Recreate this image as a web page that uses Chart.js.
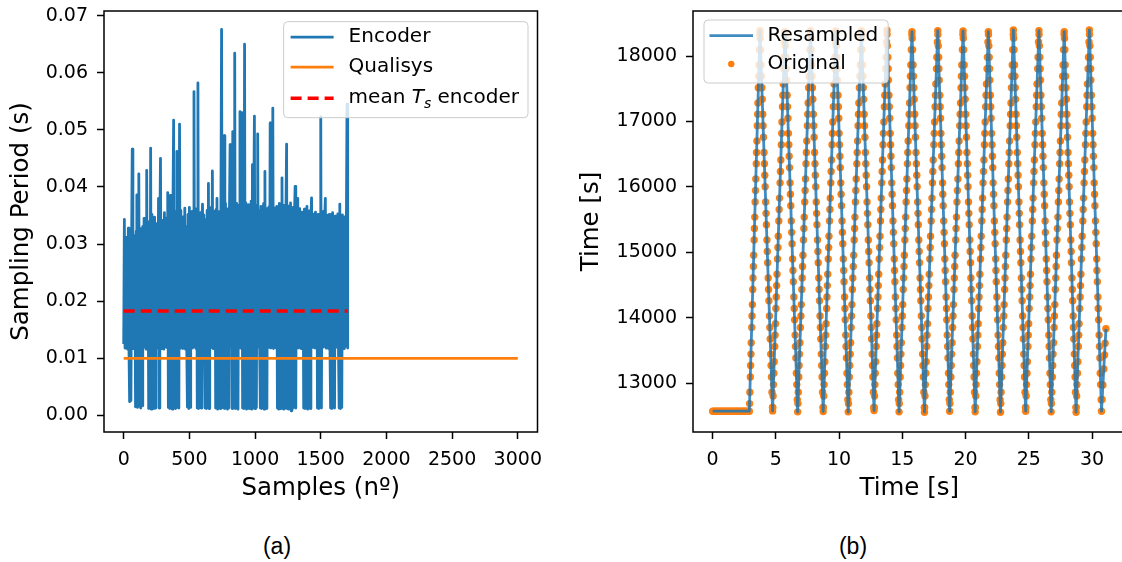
<!DOCTYPE html>
<html>
<head>
<meta charset="utf-8">
<script src="https://cdn.jsdelivr.net/npm/chart.js@4.4.1/dist/chart.umd.min.js"></script>
<style>
  html, body { margin: 0; padding: 0; background: #fff; overflow: hidden; width: 1122px; height: 562px; }
  canvas { position: absolute; top: 0; }
  #periodChart { left: 0; }
  #timeChart { left: 560px; }
  .panel-tag { position: absolute; font-family: "Liberation Sans", Arial, sans-serif; font-size: 23px; color: #000;
               transform: translate(-50%, -50%); white-space: nowrap; }
</style>
</head>
<body>
<canvas id="periodChart" width="560" height="520"></canvas>
<canvas id="timeChart" width="570" height="520"></canvas>
<div class="panel-tag" style="left:277px; top:546px;">(a)</div>
<div class="panel-tag" style="left:853px; top:546px;">(b)</div>
<script>
// ---------- panel (a): sampling period per sample ----------
const sampleTicks = [0, 500, 1000, 1500, 2000, 2500, 3000];
const periodTicks = [0.00, 0.01, 0.02, 0.03, 0.04, 0.05, 0.06, 0.07];

// encoder sampling period, one value every 5 samples (samples 0 .. 1705)
const encoderStep = 5;
const encoderPeriod = [
  0.0125, 0.0343, 0.0118, 0.0312, 0.0121, 0.0295, 0.0116, 0.0328, 0.0119, 0.0024,
  0.0305, 0.0026, 0.0298, 0.0466, 0.0117, 0.0315, 0.0122, 0.0301, 0.0015, 0.0322,
  0.0386, 0.0014, 0.0318, 0.0423, 0.0016, 0.0327, 0.0013, 0.0309, 0.0017, 0.0331,
  0.0119, 0.0345, 0.0121, 0.0318, 0.0116, 0.0429, 0.0118, 0.0339, 0.0012, 0.0326,
  0.0013, 0.0468, 0.0011, 0.0352, 0.0014, 0.0321, 0.0012, 0.0347, 0.0013, 0.0318,
  0.0118, 0.0336, 0.0121, 0.0380, 0.0013, 0.0329, 0.0450, 0.0117, 0.0342, 0.0120,
  0.0331, 0.0116, 0.0355, 0.0122, 0.0318, 0.0119, 0.0346, 0.0390, 0.0014, 0.0338,
  0.0012, 0.0385, 0.0015, 0.0349, 0.0011, 0.0362, 0.0517, 0.0013, 0.0357, 0.0012,
  0.0344, 0.0462, 0.0014, 0.0351, 0.0013, 0.0510, 0.0118, 0.0359, 0.0121, 0.0336,
  0.0117, 0.0348, 0.0120, 0.0363, 0.0116, 0.0331, 0.0119, 0.0015, 0.0352, 0.0012,
  0.0364, 0.0014, 0.0341, 0.0121, 0.0357, 0.0118, 0.0339, 0.0567, 0.0120, 0.0348,
  0.0117, 0.0362, 0.0013, 0.0582, 0.0012, 0.0346, 0.0014, 0.0355, 0.0013, 0.0338,
  0.0370, 0.0119, 0.0351, 0.0122, 0.0013, 0.0343, 0.0012, 0.0359, 0.0014, 0.0406,
  0.0012, 0.0352, 0.0118, 0.0364, 0.0121, 0.0428, 0.0117, 0.0347, 0.0120, 0.0358,
  0.0013, 0.0361, 0.0380, 0.0011, 0.0349, 0.0014, 0.0357, 0.0012, 0.0366, 0.0676,
  0.0119, 0.0352, 0.0013, 0.0490, 0.0012, 0.0371, 0.0014, 0.0349, 0.0011, 0.0362,
  0.0013, 0.0358, 0.0474, 0.0120, 0.0367, 0.0012, 0.0497, 0.0014, 0.0362, 0.0634,
  0.0012, 0.0371, 0.0013, 0.0355, 0.0011, 0.0368, 0.0121, 0.0532, 0.0118, 0.0360,
  0.0530, 0.0013, 0.0366, 0.0012, 0.0650, 0.0014, 0.0372, 0.0011, 0.0358, 0.0013,
  0.0369, 0.0012, 0.0361, 0.0014, 0.0375, 0.0011, 0.0439, 0.0013, 0.0364, 0.0524,
  0.0012, 0.0357, 0.0014, 0.0368, 0.0493, 0.0120, 0.0359, 0.0117, 0.0013, 0.0366,
  0.0012, 0.0354, 0.0014, 0.0371, 0.0011, 0.0427, 0.0013, 0.0362, 0.0012, 0.0349,
  0.0119, 0.0365, 0.0122, 0.0512, 0.0118, 0.0357, 0.0121, 0.0538, 0.0117, 0.0363,
  0.0120, 0.0352, 0.0118, 0.0366, 0.0013, 0.0358, 0.0011, 0.0371, 0.0012, 0.0355,
  0.0014, 0.0416, 0.0012, 0.0362, 0.0011, 0.0368, 0.0013, 0.0354, 0.0475, 0.0012,
  0.0367, 0.0011, 0.0359, 0.0013, 0.0372, 0.0008, 0.0356, 0.0012, 0.0364, 0.0014,
  0.0351, 0.0401, 0.0013, 0.0358, 0.0120, 0.0380, 0.0118, 0.0362, 0.0121, 0.0349,
  0.0117, 0.0356, 0.0120, 0.0347, 0.0013, 0.0361, 0.0012, 0.0352, 0.0014, 0.0366,
  0.0011, 0.0349, 0.0013, 0.0358, 0.0012, 0.0344, 0.0381, 0.0119, 0.0353, 0.0122,
  0.0341, 0.0118, 0.0356, 0.0120, 0.0348, 0.0013, 0.0352, 0.0012, 0.0345, 0.0014,
  0.0523, 0.0013, 0.0349, 0.0119, 0.0357, 0.0121, 0.0343, 0.0380, 0.0118, 0.0351,
  0.0120, 0.0338, 0.0117, 0.0352, 0.0121, 0.0013, 0.0346, 0.0012, 0.0355, 0.0014,
  0.0341, 0.0013, 0.0349, 0.0119, 0.0336, 0.0122, 0.0353, 0.0118, 0.0013, 0.0370,
  0.0012, 0.0344, 0.0014, 0.0351, 0.0120, 0.0339, 0.0117, 0.0348, 0.0121, 0.0336,
  0.0545, 0.0118
];
const qualisysSamples = [0, 3000];
const qualisysPeriod = [0.01, 0.01];
const meanSamples = [0, 1705];
const meanPeriod = [0.0183, 0.0183];

// ---------- panel (b): resampled vs original encoder signal ----------
const timeTicks = [0, 5, 10, 15, 20, 25, 30];
const positionTicks = [13000, 14000, 15000, 16000, 17000, 18000];

const resampledTime = [0, 2.90, 3.74, 4.74, 5.72, 6.72, 7.74, 8.74, 9.74, 10.72, 11.76, 12.76, 13.78, 14.74, 15.76,
  16.75, 17.80, 18.74, 19.80, 20.76, 21.80, 22.76, 23.78, 24.75, 25.80, 26.77, 27.80, 28.74, 29.79, 30.75, 31.10];
const resampledValue = [12570, 12570, 18390, 12575, 18375, 12560, 18390, 12565, 18385, 12560, 18390, 12580, 18395, 12560, 18375,
  12555, 18390, 12570, 18385, 12560, 18375, 12555, 18400, 12570, 18390, 12560, 18375, 12555, 18400, 12570, 13830];

// resting segment before the motion starts
const flatTime = [0.0, 0.1, 0.2, 0.3, 0.4, 0.5, 0.6, 0.7, 0.8, 0.9, 1.0, 1.1, 1.2, 1.3, 1.4, 1.5, 1.6, 1.7, 1.8, 1.9,
  2.0, 2.1, 2.2, 2.3, 2.4, 2.5, 2.6, 2.7, 2.8, 2.9];
const flatLevel = 12570;

// samples taken right at the turning points
const turnTime = [3.74, 4.74, 5.72, 6.72, 7.74, 8.74, 9.74, 10.72, 11.76, 12.76, 13.78, 14.74, 15.76, 16.75,
  17.80, 18.74, 19.80, 20.76, 21.80, 22.76, 23.78, 24.75, 25.80, 26.77, 27.80, 28.74, 29.79, 30.75];
const turnValue = [18390, 12575, 18375, 12560, 18390, 12565, 18385, 12560, 18390, 12580, 18395, 12560, 18375, 12555,
  18390, 12570, 18385, 12560, 18375, 12555, 18400, 12570, 18390, 12560, 18375, 12555, 18400, 12570];

// sample heights along the rising / falling strokes
const riseLevelsA = [12628, 12803, 12977, 13152, 13327, 13559, 13734, 13909, 14141, 14316, 14491, 14665, 14898, 15073, 15247,
  15480, 15655, 15829, 16062, 16237, 16411, 16644, 16819, 16993, 17226, 17401, 17575, 17808, 17983, 18215];
const riseLevelsB = [12686, 12861, 13094, 13268, 13443, 13618, 13850, 14025, 14200, 14432, 14607, 14782, 14956, 15189, 15364,
  15538, 15771, 15946, 16120, 16353, 16528, 16702, 16935, 17110, 17284, 17517, 17692, 17866, 18099, 18332];
const fallLevelsA = [18274, 18099, 17866, 17692, 17517, 17342, 17110, 16935, 16760, 16528, 16353, 16178, 16004, 15771, 15596,
  15422, 15189, 15014, 14840, 14607, 14432, 14258, 14025, 13850, 13676, 13443, 13268, 13094, 12861, 12628];
const fallLevelsB = [18332, 18157, 17983, 17808, 17633, 17401, 17226, 17051, 16819, 16644, 16469, 16295, 16062, 15887, 15713,
  15480, 15305, 15131, 14898, 14723, 14549, 14316, 14141, 13967, 13734, 13559, 13385, 13152, 12977, 12745];

// sample times of each stroke (one row per stroke)
const riseTimesA = [
  [4.75,4.78,4.81,4.84,4.87,4.91,4.94,4.97,5.00,5.03,5.06,5.09,5.13,5.16,5.19,5.23,5.26,5.29,5.33,5.36,5.39,5.43,5.46,5.48,5.52,5.55,5.58,5.62,5.65,5.69],
  [8.75,8.78,8.81,8.84,8.87,8.91,8.94,8.97,9.01,9.04,9.07,9.10,9.14,9.17,9.20,9.24,9.27,9.30,9.34,9.37,9.40,9.44,9.47,9.50,9.54,9.57,9.60,9.64,9.67,9.71],
  [12.77,12.80,12.83,12.86,12.89,12.93,12.96,12.99,13.04,13.07,13.10,13.13,13.17,13.20,13.23,13.27,13.30,13.33,13.37,13.40,13.43,13.47,13.50,13.54,13.58,13.61,13.64,13.68,13.71,13.75],
  [16.76,16.79,16.82,16.86,16.89,16.93,16.96,16.99,17.03,17.07,17.10,17.13,17.17,17.20,17.23,17.28,17.31,17.34,17.38,17.41,17.44,17.49,17.52,17.55,17.59,17.62,17.65,17.70,17.73,17.77],
  [20.77,20.80,20.83,20.86,20.90,20.94,20.97,21.00,21.04,21.07,21.10,21.13,21.18,21.21,21.24,21.28,21.31,21.34,21.38,21.42,21.45,21.49,21.52,21.55,21.59,21.62,21.65,21.70,21.73,21.77],
  [24.76,24.79,24.82,24.86,24.89,24.93,24.96,24.99,25.03,25.07,25.10,25.13,25.17,25.20,25.23,25.28,25.31,25.34,25.38,25.41,25.44,25.49,25.52,25.55,25.59,25.62,25.65,25.70,25.73,25.77],
  [28.75,28.78,28.81,28.85,28.88,28.92,28.95,28.98,29.02,29.06,29.09,29.12,29.16,29.19,29.22,29.27,29.30,29.33,29.37,29.40,29.43,29.48,29.51,29.54,29.58,29.61,29.64,29.69,29.72,29.76]
];
const riseTimesB = [
  [2.92,2.94,2.98,3.00,3.03,3.05,3.09,3.11,3.14,3.17,3.19,3.22,3.24,3.28,3.30,3.33,3.36,3.39,3.41,3.45,3.47,3.50,3.53,3.56,3.58,3.61,3.64,3.66,3.70,3.73],
  [6.74,6.77,6.81,6.84,6.87,6.90,6.94,6.98,7.01,7.05,7.08,7.11,7.14,7.18,7.21,7.24,7.28,7.31,7.34,7.38,7.41,7.44,7.49,7.52,7.55,7.59,7.62,7.65,7.69,7.73],
  [10.74,10.77,10.81,10.84,10.88,10.91,10.95,10.98,11.01,11.05,11.08,11.12,11.15,11.19,11.22,11.25,11.29,11.32,11.35,11.40,11.43,11.46,11.50,11.53,11.56,11.60,11.64,11.67,11.71,11.75],
  [14.76,14.79,14.83,14.86,14.89,14.92,14.96,15.00,15.03,15.07,15.10,15.13,15.16,15.20,15.23,15.26,15.30,15.33,15.36,15.40,15.43,15.46,15.51,15.54,15.57,15.61,15.64,15.67,15.71,15.75],
  [18.76,18.79,18.84,18.87,18.90,18.93,18.97,19.01,19.04,19.08,19.11,19.14,19.17,19.22,19.25,19.28,19.32,19.35,19.39,19.43,19.46,19.49,19.54,19.57,19.60,19.64,19.67,19.70,19.75,19.79],
  [22.78,22.81,22.85,22.88,22.91,22.94,22.98,23.02,23.05,23.09,23.12,23.15,23.18,23.22,23.25,23.28,23.32,23.35,23.38,23.42,23.45,23.48,23.53,23.56,23.59,23.63,23.66,23.69,23.73,23.77],
  [26.79,26.82,26.86,26.89,26.92,26.96,27.00,27.03,27.06,27.10,27.13,27.16,27.19,27.23,27.26,27.30,27.34,27.37,27.40,27.44,27.47,27.50,27.54,27.57,27.60,27.65,27.68,27.71,27.75,27.79]
];
const fallTimesA = [
  [3.76,3.79,3.83,3.86,3.89,3.92,3.96,3.99,4.02,4.06,4.09,4.12,4.15,4.19,4.22,4.25,4.29,4.32,4.35,4.39,4.42,4.45,4.49,4.52,4.55,4.59,4.62,4.65,4.69,4.73],
  [7.76,7.79,7.83,7.86,7.89,7.92,7.96,7.99,8.02,8.06,8.09,8.12,8.15,8.19,8.22,8.25,8.29,8.32,8.35,8.39,8.42,8.45,8.49,8.52,8.55,8.59,8.62,8.65,8.69,8.73],
  [11.78,11.81,11.85,11.88,11.91,11.94,11.98,12.01,12.04,12.08,12.11,12.14,12.17,12.21,12.24,12.27,12.31,12.34,12.37,12.41,12.44,12.47,12.51,12.54,12.57,12.61,12.64,12.67,12.71,12.75],
  [15.78,15.81,15.85,15.88,15.91,15.94,15.98,16.01,16.04,16.08,16.11,16.14,16.17,16.21,16.24,16.26,16.30,16.33,16.36,16.40,16.43,16.46,16.50,16.53,16.56,16.60,16.63,16.66,16.70,16.74],
  [19.82,19.85,19.89,19.92,19.94,19.97,20.01,20.04,20.07,20.11,20.14,20.16,20.19,20.23,20.26,20.29,20.33,20.36,20.39,20.42,20.45,20.48,20.52,20.55,20.58,20.62,20.64,20.67,20.71,20.75],
  [23.80,23.83,23.87,23.90,23.93,23.95,23.99,24.02,24.05,24.09,24.12,24.15,24.18,24.22,24.25,24.27,24.31,24.34,24.37,24.41,24.44,24.47,24.51,24.54,24.57,24.60,24.63,24.66,24.70,24.74],
  [27.82,27.85,27.88,27.91,27.94,27.97,28.01,28.04,28.06,28.10,28.13,28.16,28.19,28.22,28.25,28.28,28.32,28.35,28.37,28.41,28.44,28.47,28.51,28.53,28.56,28.60,28.63,28.66,28.69,28.73]
];
const fallTimesB = [
  [5.73,5.76,5.79,5.82,5.85,5.89,5.92,5.95,5.99,6.02,6.05,6.08,6.12,6.15,6.18,6.22,6.25,6.28,6.32,6.35,6.38,6.42,6.45,6.48,6.52,6.55,6.58,6.62,6.65,6.69],
  [9.75,9.78,9.81,9.84,9.87,9.91,9.94,9.97,10.00,10.03,10.06,10.09,10.13,10.16,10.19,10.23,10.26,10.29,10.33,10.36,10.39,10.43,10.46,10.48,10.52,10.55,10.58,10.62,10.65,10.69],
  [13.79,13.82,13.85,13.88,13.90,13.94,13.97,14.00,14.04,14.07,14.10,14.13,14.16,14.19,14.22,14.26,14.29,14.32,14.36,14.38,14.41,14.45,14.48,14.51,14.55,14.58,14.61,14.64,14.67,14.71],
  [17.81,17.84,17.87,17.89,17.92,17.96,17.99,18.02,18.05,18.08,18.11,18.14,18.18,18.20,18.23,18.27,18.30,18.33,18.36,18.39,18.42,18.46,18.49,18.51,18.55,18.58,18.61,18.65,18.67,18.71],
  [21.81,21.84,21.87,21.90,21.92,21.96,21.99,22.02,22.06,22.09,22.12,22.15,22.18,22.21,22.24,22.28,22.31,22.34,22.38,22.40,22.43,22.47,22.50,22.53,22.57,22.60,22.63,22.66,22.69,22.73],
  [25.81,25.84,25.87,25.90,25.93,25.96,25.99,26.02,26.06,26.09,26.12,26.15,26.19,26.22,26.25,26.29,26.31,26.34,26.38,26.41,26.44,26.48,26.51,26.54,26.58,26.61,26.63,26.67,26.70,26.74],
  [29.80,29.83,29.86,29.89,29.91,29.95,29.98,30.01,30.05,30.08,30.11,30.14,30.17,30.20,30.23,30.27,30.30,30.33,30.37,30.39,30.42,30.46,30.49,30.52,30.56,30.59,30.62,30.65,30.68,30.72]
];
const tailTime = [30.80, 30.86, 30.93, 30.99, 31.04, 31.10];
const tailValue = [12750, 12970, 13215, 13430, 13610, 13830];

// ---------- shared styling ----------
const FAMILY = '"DejaVu Sans"';
const TICK_FONT = { family: FAMILY, size: 19 };
const TITLE_FONT = { family: FAMILY, size: 24.5 };

function pairUp(xs, ys) { return xs.map((x, k) => ({ x: x, y: ys[k] })); }

// black box around the plotting area
const frame = {
  id: 'frame',
  afterDatasetsDraw(chart) {
    const { ctx, chartArea: a } = chart;
    ctx.save();
    ctx.strokeStyle = '#000';
    ctx.lineWidth = 1.5;
    ctx.strokeRect(a.left, a.top, a.right - a.left, a.bottom - a.top);
    ctx.restore();
  }
};

// framed legend inside the plotting area
function labelPieces(ds) { return ds.labelParts || [{ text: ds.label }]; }
function pieceFont(p, o) {
  const size = p.sub ? o.size * 0.7 : o.size;
  return (p.italic ? 'italic ' : '') + size + 'px ' + FAMILY;
}
function labelWidth(ctx, ds, o) {
  let w = 0;
  for (const p of labelPieces(ds)) { ctx.font = pieceFont(p, o); w += ctx.measureText(p.text).width; }
  return w;
}
function drawLabel(ctx, ds, x, y, o) {
  ctx.fillStyle = '#000';
  ctx.textBaseline = 'middle';
  ctx.textAlign = 'left';
  for (const p of labelPieces(ds)) {
    ctx.font = pieceFont(p, o);
    ctx.fillText(p.text, x, y + (p.sub ? o.size * 0.3 : 0));
    x += ctx.measureText(p.text).width;
  }
}
const boxLegend = {
  id: 'boxLegend',
  afterDatasetsDraw(chart, args, o) {
    const { ctx, chartArea: a } = chart;
    const sets = chart.data.datasets;
    ctx.save();
    const widths = sets.map(ds => labelWidth(ctx, ds, o));
    const w = o.padLeft + o.handle + o.gap + Math.max(...widths) + o.padRight;
    const x = o.side === 'right' ? a.right - o.inset - w : a.left + o.inset;
    const y = a.top + o.insetTop;
    ctx.beginPath();
    ctx.roundRect(x, y, w, o.height, 4);
    ctx.fillStyle = 'rgba(255,255,255,0.8)';
    ctx.fill();
    ctx.lineWidth = 1;
    ctx.strokeStyle = '#cccccc';
    ctx.stroke();
    sets.forEach((ds, i) => {
      const cy = y + o.rows[i];
      const h0 = x + o.padLeft, h1 = h0 + o.handle;
      if (ds.showLine === false) {
        ctx.beginPath();
        ctx.arc((h0 + h1) / 2, cy, o.markerRadius, 0, Math.PI * 2);
        ctx.fillStyle = ds.pointBackgroundColor;
        ctx.fill();
      } else {
        ctx.beginPath();
        ctx.setLineDash(ds.borderDash || []);
        ctx.lineWidth = ds.borderWidth;
        ctx.strokeStyle = ds.borderColor;
        ctx.lineCap = 'butt';
        ctx.moveTo(h0, cy);
        ctx.lineTo(h1, cy);
        ctx.stroke();
        ctx.setLineDash([]);
      }
      drawLabel(ctx, ds, h1 + o.gap, cy, o);
    });
    ctx.restore();
  }
};

function axis(opts) {
  return Object.assign({
    type: 'linear',
    grid: { display: true, drawOnChartArea: false, drawTicks: true, tickLength: 7, tickWidth: 1.5, tickColor: '#000' },
    border: { display: false },
  }, opts);
}
// fixed axis sizes so the plotting area lands at a set place
function fixX(h) { return s => { s.height = h; s.paddingLeft = 0; s.paddingRight = 0; }; }
function fixY(w) { return s => { s.width = w; s.paddingTop = 0; s.paddingBottom = 0; }; }

// ---------- chart (a) ----------
const encoderPoints = encoderPeriod.map((v, i) => ({ x: i * encoderStep, y: v }));

new Chart(document.getElementById('periodChart'), {
  type: 'line',
  data: {
    datasets: [
      { label: 'Encoder', data: encoderPoints, borderColor: '#1f77b4', borderWidth: 2.8,
        borderJoinStyle: 'round', pointRadius: 0, order: 3 },
      { label: 'Qualisys', data: pairUp(qualisysSamples, qualisysPeriod), borderColor: '#ff7f0e', borderWidth: 2.8,
        pointRadius: 0, order: 2 },
      { label: 'mean Ts encoder', data: pairUp(meanSamples, meanPeriod), borderColor: '#ff0000', borderWidth: 3.5,
        borderDash: [11, 6], pointRadius: 0, order: 1,
        labelParts: [{ text: 'mean ' }, { text: 'T', italic: true }, { text: 's', italic: true, sub: true }, { text: ' encoder' }] }
    ]
  },
  options: {
    responsive: false, animation: false, devicePixelRatio: 1, events: [],
    layout: { padding: { left: 0, top: 11, right: 22.5, bottom: 0 } },
    scales: {
      x: axis({
        min: -150, max: 3150,
        afterBuildTicks: s => { s.ticks = sampleTicks.map(v => ({ value: v })); },
        afterFit: fixX(88),
        ticks: { font: TICK_FONT, color: '#000', padding: 10, maxRotation: 0, autoSkip: false, callback: v => String(v) },
        title: { display: true, text: 'Samples (nº)', font: TITLE_FONT, color: '#000', padding: { top: 0, bottom: 17 } }
      }),
      y: axis({
        min: -0.0029, max: 0.0708,
        afterBuildTicks: s => { s.ticks = periodTicks.map(v => ({ value: v })); },
        afterFit: fixY(104),
        ticks: { font: TICK_FONT, color: '#000', padding: 9, autoSkip: false, callback: v => Number(v).toFixed(2) },
        title: { display: true, text: 'Sampling Period (s)', font: TITLE_FONT, color: '#000', padding: { top: 7, bottom: 0 } }
      })
    },
    plugins: {
      legend: { display: false },
      tooltip: { enabled: false },
      boxLegend: { size: 20, side: 'right', inset: 9.5, insetTop: 10.7, height: 96, rows: [15.5, 45.5, 76.5],
                   padLeft: 7, handle: 43, gap: 15, padRight: 9, markerRadius: 3.3 }
    }
  },
  plugins: [frame, boxLegend]
});

// ---------- chart (b) ----------
const originalPoints = [
  ...flatTime.map(t => ({ x: t, y: flatLevel })),
  ...pairUp(turnTime, turnValue),
  ...riseTimesA.flatMap(row => pairUp(row, riseLevelsA)),
  ...riseTimesB.flatMap(row => pairUp(row, riseLevelsB)),
  ...fallTimesA.flatMap(row => pairUp(row, fallLevelsA)),
  ...fallTimesB.flatMap(row => pairUp(row, fallLevelsB)),
  ...pairUp(tailTime, tailValue)
];

new Chart(document.getElementById('timeChart'), {
  type: 'line',
  data: {
    datasets: [
      { label: 'Resampled', data: pairUp(resampledTime, resampledValue), borderColor: 'rgba(31,119,180,0.85)',
        borderWidth: 2.8, borderJoinStyle: 'round', pointRadius: 0 },
      { label: 'Original', data: originalPoints, showLine: false, pointRadius: 3.7, pointBorderWidth: 0,
        pointBackgroundColor: '#ff7f0e', pointBorderColor: '#ff7f0e' }
    ]
  },
  options: {
    responsive: false, animation: false, devicePixelRatio: 1, events: [],
    layout: { padding: { left: 0, top: 11, right: 4.4, bottom: 0 } },
    scales: {
      x: axis({
        min: -1.555, max: 32.655,
        afterBuildTicks: s => { s.ticks = timeTicks.map(v => ({ value: v })); },
        afterFit: fixX(88),
        ticks: { font: TICK_FONT, color: '#000', padding: 10, maxRotation: 0, autoSkip: false, callback: v => String(v) },
        title: { display: true, text: 'Time [s]', font: TITLE_FONT, color: '#000', padding: { top: 0, bottom: 17 } }
      }),
      y: axis({
        min: 12252, max: 18690,
        afterBuildTicks: s => { s.ticks = positionTicks.map(v => ({ value: v })); },
        afterFit: fixY(133),
        ticks: { font: TICK_FONT, color: '#000', padding: 9, autoSkip: false, callback: v => String(v) },
        title: { display: true, text: 'Time [s]', font: TITLE_FONT, color: '#000', padding: { top: 17, bottom: 0 } }
      })
    },
    plugins: {
      legend: { display: false },
      tooltip: { enabled: false },
      boxLegend: { size: 20, side: 'left', inset: 11, insetTop: 9, height: 63, rows: [15.7, 44],
                   padLeft: 5.5, handle: 43.5, gap: 14.5, padRight: 10, markerRadius: 3.2 }
    }
  },
  plugins: [frame, boxLegend]
});
</script>
</body>
</html>
